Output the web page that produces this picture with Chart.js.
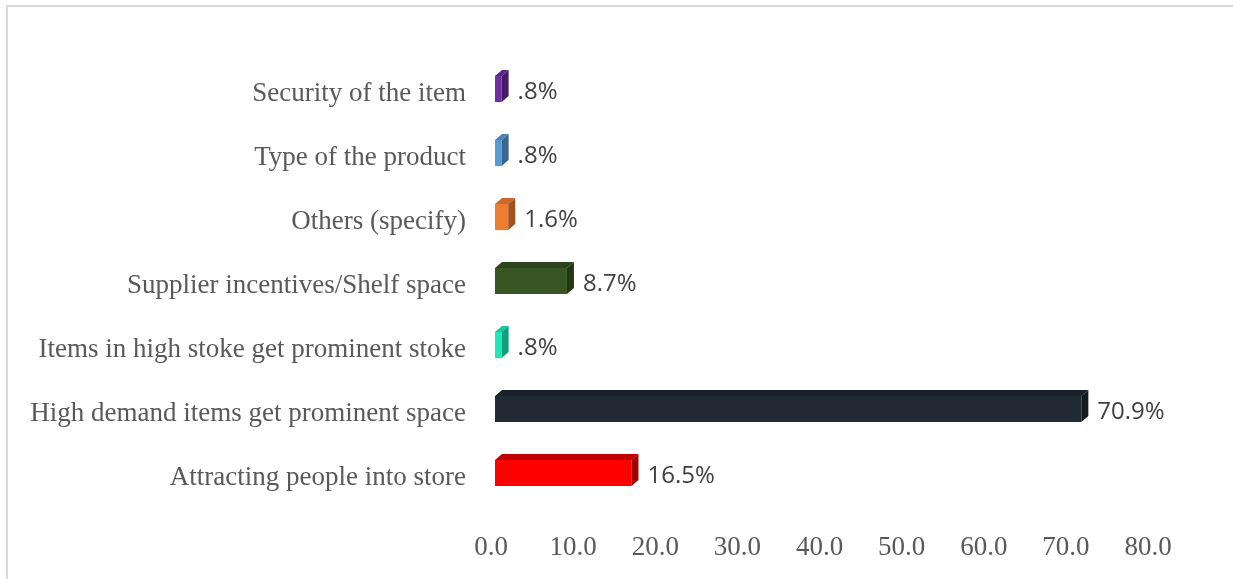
<!DOCTYPE html>
<html>
<head>
<meta charset="utf-8">
<script src="https://cdn.jsdelivr.net/npm/chart.js@4/dist/chart.umd.min.js"></script>
<style>
  html, body { margin: 0; padding: 0; background: #fff; overflow: hidden; }
  .frame {
    position: absolute; left: 6px; top: 5px; width: 1400px; height: 800px;
    border: 2px solid #d9d9d9; box-sizing: border-box;
  }
  .wrap { position: absolute; left: 0; top: 0; width: 1233px; height: 579px; }
</style>
</head>
<body>
<div class="frame"></div>
<div class="wrap"><canvas id="chart"></canvas></div>
<script>
// ── Data ──────────────────────────────────────────────────────────────────
const categories = [
  'Security of the item',
  'Type of the product',
  'Others (specify)',
  'Supplier incentives/Shelf space',
  'Items in high stoke get prominent stoke',
  'High demand items get prominent space',
  'Attracting people into store',
];
const shares = [0.8, 0.8, 1.6, 8.7, 0.8, 70.9, 16.5];
const axisTicks = [0, 10, 20, 30, 40, 50, 60, 70, 80];

// ── Styles ────────────────────────────────────────────────────────────────
const FRONT = ['#7030A0', '#5B9BD5', '#ED7D31', '#375623', '#1DE9B6', '#222A35', '#FF0000'];
const TOP   = ['#5A2585', '#4A82B5', '#C9692A', '#2A441B', '#15C79A', '#1A2029', '#C00000'];
const SIDE  = ['#47196B', '#3A6690', '#A0521F', '#223815', '#0E9F7B', '#141920', '#A00000'];
const DEPTH_X = 7, DEPTH_Y = 6;
const SERIF = "'Liberation Serif', serif";
const TEXT = '#595959';

function fmtPct(v) {
  return v.toFixed(1).replace(/^0\./, '.') + '%';
}

// top and right faces for the extruded look, plus value labels
const bar3d = {
  id: 'bar3d',
  afterDatasetsDraw(chart) {
    const ctx = chart.ctx;
    const meta = chart.getDatasetMeta(0);
    ctx.save();
    meta.data.forEach((bar, i) => {
      const { x, y, base, height } = bar.getProps(['x', 'y', 'base', 'height'], true);
      const top = y - height / 2, bottom = y + height / 2;

      ctx.fillStyle = TOP[i];
      ctx.beginPath();
      ctx.moveTo(base, top);
      ctx.lineTo(base + DEPTH_X, top - DEPTH_Y);
      ctx.lineTo(x + DEPTH_X, top - DEPTH_Y);
      ctx.lineTo(x, top);
      ctx.closePath();
      ctx.fill();

      ctx.fillStyle = SIDE[i];
      ctx.beginPath();
      ctx.moveTo(x, top);
      ctx.lineTo(x + DEPTH_X, top - DEPTH_Y);
      ctx.lineTo(x + DEPTH_X, bottom - DEPTH_Y);
      ctx.lineTo(x, bottom);
      ctx.closePath();
      ctx.fill();

      ctx.fillStyle = '#404040';
      ctx.font = "24px 'Open Sans', sans-serif";
      ctx.textAlign = 'left';
      ctx.textBaseline = 'middle';
      ctx.fillText(fmtPct(shares[i]), x + DEPTH_X + 9, y + 3);
    });
    ctx.restore();
  },
};

new Chart(document.getElementById('chart'), {
  type: 'bar',
  data: {
    labels: categories,
    datasets: [{
      data: shares,
      backgroundColor: FRONT,
      borderWidth: 0,
      categoryPercentage: 1,
      barPercentage: 0.41,
      xAxisID: 'x',
    }],
  },
  options: {
    indexAxis: 'y',
    responsive: true,
    maintainAspectRatio: false,
    animation: false,
    layout: { padding: { top: 57, right: 85, bottom: 0, left: 0 } },
    plugins: {
      legend: { display: false },
      tooltip: { enabled: false },
    },
    scales: {
      x: { type: 'linear', display: false, min: -0.484, max: 78.96 },
      x2: {
        type: 'linear',
        axis: 'x',
        position: 'bottom',
        min: axisTicks[0],
        max: axisTicks[axisTicks.length - 1],
        afterBuildTicks: s => { s.ticks = axisTicks.map(v => ({ value: v })); },
        afterFit: s => { s.height = 74; },
        grid: { display: false, drawTicks: false },
        border: { display: false },
        ticks: {
          padding: 27,
          color: TEXT,
          font: { family: SERIF, size: 27 },
          callback: v => v.toFixed(1),
        },
      },
      y: {
        afterFit: s => { s.width = 491; },
        grid: { display: false, drawTicks: false },
        border: { display: false },
        ticks: {
          padding: 25,
          labelOffset: 5,
          color: TEXT,
          font: { family: SERIF, size: 27 },
        },
      },
    },
  },
  plugins: [bar3d],
});
</script>
</body>
</html>
